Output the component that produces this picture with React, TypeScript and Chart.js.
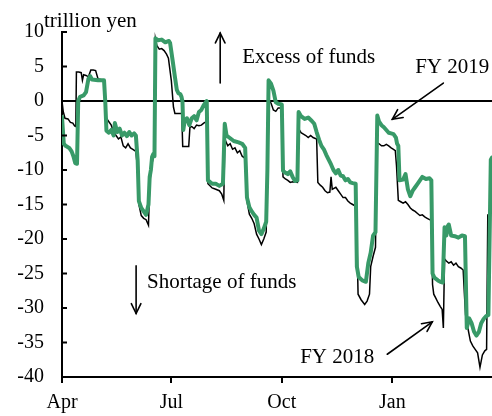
import React, { useEffect, useRef } from "react";
import { Chart, registerables } from "chart.js";

Chart.register(...registerables);

// ---- axis ticks ----
const monthTickDays = [0, 91, 183, 275];
const monthLabels = ["Apr", "Jul", "Oct", "Jan"];
const yMin = -40;
const yMax = 10;
const yStep = 5;
const xMaxDay = 358;

// ---- FY 2019 (green) : day index from Apr 1, value in trillion yen ----
const days2019 = [
  0, 1.5, 3, 6, 8, 9.5, 11, 12.5, 13.5, 15, 18, 20, 22, 23.5, 25, 30, 35, 36, 37, 39,
  41, 43, 44, 46, 48, 50, 52, 54, 56, 58, 60, 61.5, 63, 64, 66, 68, 70, 72, 73, 74,
  75, 76, 77, 77.8, 80, 83, 86, 89, 90, 92, 94, 95.6, 97, 98.5, 99.5, 100.3, 101, 102, 104, 106,
  108, 110, 112, 114, 116, 118, 120.5, 121.5, 125, 128, 131, 134, 135.5, 137, 140, 143, 147, 150, 152.5, 154,
  156, 158, 160, 162, 164, 166, 168, 170, 171, 172, 174, 176, 178, 180, 183, 184, 186, 188, 190, 192,
  194, 196, 197, 199, 202, 205, 208, 210, 212, 214, 216, 218, 220, 222, 224, 226, 228, 230, 232, 234,
  236, 238, 240, 242, 244.5, 245.5, 247, 250, 253, 255, 257, 259, 261, 262.5, 264, 266, 268, 270, 272, 274,
  276, 278, 279, 280, 281, 284, 286, 288, 290, 292, 294, 296, 298, 300, 303, 306, 307.5, 308.5, 310, 313,
  315, 317, 318.5, 320, 321, 322, 324, 327, 330, 333, 335.5, 337, 339, 341, 343, 345, 347, 349, 351, 353,
  355, 356, 357, 358,
];
const fy2019 = [
  -2.3, -6.2, -6.5, -6.8, -7.3, -8.0, -9.0, -9.1, 0.0, 0.6, 0.8, 1.3, 3.2, 3.6, 3.1, 3.0, 3.0, 0.0, -4.3, -4.6,
  -4.2, -5.0, -3.2, -4.5, -4.0, -5.0, -4.6, -5.1, -4.5, -5.0, -4.7, -5.0, -8.6, -14.5, -15.5, -16.0, -16.5, -15.0, -11.0, -10.0,
  -8.1, -7.7, -8.0, 9.1, 8.8, 8.9, 8.5, 8.7, 8.4, 6.0, 3.5, 1.6, 1.1, 1.0, 0.6, -0.1, -4.2, -3.0, -2.5, -3.5,
  -2.5, -2.2, -2.8, -1.6, -1.3, -0.6, 0.0, -11.5, -12.0, -12.0, -12.3, -12.0, -3.3, -5.0, -5.4, -5.8, -6.0, -6.2, -6.8, -14.0,
  -15.4, -16.0, -16.5, -16.9, -18.8, -19.3, -18.5, -17.5, -10.0, 3.0, 2.5, 1.5, -0.2, -0.4, -0.5, -10.1, -10.4, -10.6, -10.2, -11.0,
  -11.6, -11.5, -1.6, -2.2, -2.6, -2.4, -2.9, -3.3, -4.5, -5.6, -6.5, -7.0, -7.8, -8.5, -9.2, -10.0, -10.5, -10.0, -10.8, -10.9,
  -11.5, -11.3, -11.8, -11.9, -12.0, -24.0, -25.5, -26.0, -26.2, -23.5, -22.0, -19.5, -19.0, -2.1, -3.0, -3.5, -3.8, -4.2, -4.6, -4.7,
  -4.8, -5.3, -6.2, -6.5, -11.5, -11.4, -10.6, -12.8, -13.8, -13.0, -12.5, -12.0, -11.5, -11.0, -11.3, -11.2, -11.5, -25.0, -25.6, -26.0,
  -26.2, -26.3, -18.3, -19.5, -18.2, -17.9, -19.5, -19.6, -19.8, -19.5, -19.6, -32.9, -31.5, -32.2, -33.4, -34.0, -33.5, -32.2, -31.6, -31.2,
  -31.0, -20.0, -8.5, -8.2,
];

// ---- FY 2018 (black) ----
const days2018 = [
  0, 1, 2.5, 5, 7, 9, 10.5, 11.5, 12, 14, 16, 17, 18, 20, 22, 24, 26, 28, 30, 33,
  35, 36, 37, 39, 41, 43, 45, 47, 49, 51, 53, 55, 57, 59, 61.5, 63, 64, 66, 68, 70,
  72, 73, 74, 75, 76, 77, 77.8, 79, 81, 83, 85, 87, 88.6, 91, 92.8, 94, 97, 99.7, 100.5, 103,
  105.5, 106.5, 108, 110, 112, 114, 116, 118, 120, 120.6, 121.5, 125, 128, 131, 133, 134.7, 135.5, 138, 140, 142,
  144, 146, 148, 150, 152.5, 154, 156, 158, 160, 162, 164, 166, 168, 170, 171, 172.5, 174, 176, 178, 180,
  183, 184, 186, 188, 190, 192, 196, 197, 199, 201, 203, 205, 207, 209, 212, 213, 215, 217, 219, 221,
  223, 224, 225, 228, 230, 232, 234, 236, 238, 240, 242, 245, 246.5, 249, 252, 254, 256, 257, 259, 261,
  262, 264, 266, 268, 270, 272, 274, 276, 277.5, 278.5, 280, 282, 284, 286, 288, 290, 292, 294, 296, 298,
  300, 302, 304, 306, 307.5, 308.5, 309.5, 311, 313, 315, 316.5, 317.5, 318.5, 320, 322, 324, 326, 328, 330, 332,
  334, 335, 336, 338, 340, 342, 344, 346, 348, 350, 352, 353.5, 354.5,
];
const fy2018 = [
  0.0, -1.5, -2.5, -2.6, -3.1, -3.2, -3.6, -3.7, 4.2, 4.2, 4.1, 3.0, 3.8, 3.7, 3.5, 4.5, 4.5, 4.4, 3.2, 3.1,
  3.0, 0.0, -2.5, -3.0, -3.5, -4.5, -5.0, -5.5, -5.2, -6.5, -6.8, -6.2, -6.8, -7.0, -7.3, -10.0, -15.0, -16.6, -17.0, -17.2,
  -18.0, -12.0, -10.5, -9.0, -8.2, -8.0, 9.0, 8.0, 7.5, 7.6, 7.3, 6.8, 6.2, 3.0, -0.9, -1.8, -1.8, -1.8, -6.6, -6.6,
  -6.6, -3.8, -3.7, -4.0, -3.5, -3.6, -3.5, -3.2, -3.0, -0.5, -12.0, -12.6, -12.8, -13.0, -13.5, -14.4, -5.5, -6.5, -6.2, -7.0,
  -6.8, -7.5, -7.2, -8.0, -8.3, -14.5, -16.4, -17.0, -17.8, -19.3, -20.0, -20.8, -20.0, -19.0, -10.0, 0.0, -0.3, -1.3, -1.5, -1.0,
  -1.0, -11.0, -11.3, -11.5, -11.8, -11.7, -11.8, -4.0, -4.6, -4.8, -5.0, -5.3, -5.0, -5.3, -5.5, -11.8, -12.2, -12.5, -13.0, -13.3,
  -13.2, -11.0, -12.8, -12.5, -13.0, -13.5, -14.0, -14.0, -14.5, -14.8, -15.0, -15.3, -28.0, -28.8, -29.5, -29.0, -28.0, -24.0, -22.5, -21.2,
  -6.0, -6.2, -6.5, -6.5, -6.3, -6.5, -6.8, -7.0, -7.2, -9.4, -14.4, -14.6, -14.8, -14.6, -15.0, -15.5, -15.8, -16.0, -16.3, -16.6,
  -16.5, -16.8, -17.0, -17.2, -17.3, -26.6, -28.0, -28.5, -29.2, -29.8, -30.2, -32.9, -22.9, -23.2, -23.5, -23.3, -23.8, -23.5, -24.0, -24.2,
  -24.5, -27.9, -31.0, -33.0, -34.8, -35.5, -36.0, -36.5, -38.6, -36.8, -36.2, -36.0, -16.4,
];

// ---- annotations (data coordinates) ----
const noteTexts = ["trillion yen", "Excess of funds", "FY 2019", "Shortage of funds", "FY 2018"];
const noteX = [-15, 150, 294, 70.8, 198.3];
const noteY = [10.7, 5.5, 4.0, -27.1, -38.0];

const arrowFromX = [131.7, 317.5, 61.7, 270.8];
const arrowFromY = [2.6, 2.6, -23.9, -36.7];
const arrowToX = [131.7, 275, 61.7, 308.3];
const arrowToY = [9.85, -2.65, -30.8, -32.0];

const FONT = "'Liberation Serif', 'Times New Roman', serif";
const GREEN = "#389a68";

const overlayPlugin = {
  id: "overlay",
  beforeDatasetsDraw(chart: any) {
    const { ctx, chartArea, scales } = chart;
    const y0 = scales.y.getPixelForValue(0);
    ctx.save();
    ctx.strokeStyle = "#000";
    ctx.lineWidth = 2;
    ctx.beginPath();
    ctx.moveTo(chartArea.left, y0);
    ctx.lineTo(chartArea.right, y0);
    ctx.stroke();
    ctx.restore();
  },
  afterDraw(chart: any) {
    const { ctx, chartArea, scales } = chart;
    const xs = scales.x;
    const ys = scales.y;
    ctx.save();
    ctx.strokeStyle = "#000";
    ctx.lineWidth = 2;
    ys.ticks.forEach((t: any) => {
      const py = ys.getPixelForValue(t.value);
      ctx.beginPath();
      ctx.moveTo(chartArea.left, py);
      ctx.lineTo(chartArea.left + 5, py);
      ctx.stroke();
    });
    ctx.font = `21px ${FONT}`;
    ctx.fillStyle = "#000";
    ctx.textAlign = "left";
    ctx.textBaseline = "alphabetic";
    noteTexts.forEach((t, i) => {
      ctx.fillText(t, xs.getPixelForValue(noteX[i]), ys.getPixelForValue(noteY[i]));
    });
    ctx.lineWidth = 1.6;
    ctx.lineCap = "round";
    for (let i = 0; i < arrowFromX.length; i++) {
      const x1 = xs.getPixelForValue(arrowFromX[i]);
      const y1 = ys.getPixelForValue(arrowFromY[i]);
      const x2 = xs.getPixelForValue(arrowToX[i]);
      const y2 = ys.getPixelForValue(arrowToY[i]);
      ctx.beginPath();
      ctx.moveTo(x1, y1);
      ctx.lineTo(x2, y2);
      ctx.stroke();
      const ang = Math.atan2(y2 - y1, x2 - x1);
      const len = 11;
      const spread = 0.45;
      ctx.beginPath();
      ctx.moveTo(x2 - len * Math.cos(ang - spread), y2 - len * Math.sin(ang - spread));
      ctx.lineTo(x2, y2);
      ctx.lineTo(x2 - len * Math.cos(ang + spread), y2 - len * Math.sin(ang + spread));
      ctx.stroke();
    }
    ctx.restore();
  },
};

export default function App() {
  const ref = useRef<HTMLCanvasElement | null>(null);

  useEffect(() => {
    if (!ref.current) return;
    const chart = new Chart(ref.current, {
      type: "line",
      data: {
        datasets: [
          {
            label: "FY 2019",
            data: days2019.map((d, i) => ({ x: d, y: fy2019[i] })),
            borderColor: GREEN,
            borderWidth: 4,
            pointRadius: 0,
            tension: 0,
            order: 0,
            borderJoinStyle: "round",
            borderCapStyle: "round",
          },
          {
            label: "FY 2018",
            data: days2018.map((d, i) => ({ x: d, y: fy2018[i] })),
            borderColor: "#000",
            borderWidth: 1.5,
            pointRadius: 0,
            tension: 0,
            order: 1,
          },
        ],
      },
      options: {
        animation: false,
        responsive: false,
        maintainAspectRatio: false,
        devicePixelRatio: 1,
        layout: { padding: { top: 32, left: 0, right: 0, bottom: 0 } },
        plugins: { legend: { display: false }, tooltip: { enabled: false } },
        scales: {
          x: {
            type: "linear",
            min: 0,
            max: xMaxDay,
            afterBuildTicks: (scale: any) => {
              scale.ticks = monthTickDays.map((v) => ({ value: v }));
            },
            afterFit: (scale: any) => {
              scale.height = 39;
            },
            ticks: {
              autoSkip: false,
              maxRotation: 0,
              padding: 8,
              color: "#000",
              font: { family: FONT, size: 20 },
              callback: (_v: any, idx: number) => monthLabels[idx],
            },
            grid: {
              drawOnChartArea: false,
              drawTicks: true,
              tickLength: 6,
              color: "#000",
              lineWidth: 2,
            },
            border: { display: true, color: "#000", width: 2 },
          },
          y: {
            type: "linear",
            min: yMin,
            max: yMax,
            afterFit: (scale: any) => {
              scale.width = 62;
            },
            ticks: {
              stepSize: yStep,
              padding: 18,
              color: "#000",
              font: { family: FONT, size: 20 },
            },
            grid: { drawOnChartArea: false, drawTicks: false },
            border: { display: true, color: "#000", width: 2 },
          },
        },
      },
      plugins: [overlayPlugin],
    });
    return () => chart.destroy();
  }, []);

  return (
    <div style={{ position: "absolute", left: 0, top: 0, width: 492, height: 416, background: "#fff" }}>
      <canvas ref={ref} width={492} height={416} style={{ display: "block", width: 492, height: 416 }} />
    </div>
  );
}
